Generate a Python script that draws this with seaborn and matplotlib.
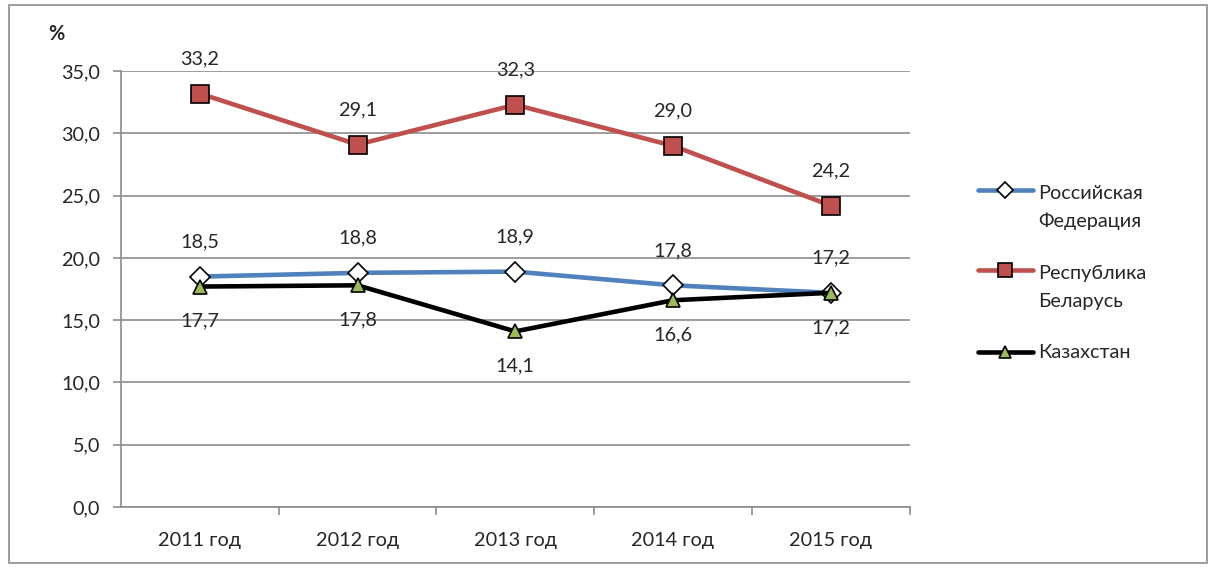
import pandas as pd
import matplotlib
matplotlib.use("Agg")
import matplotlib.pyplot as plt
import seaborn as sns
from matplotlib.legend_handler import HandlerLine2D

# data
years = ["2011 год", "2012 год", "2013 год", "2014 год", "2015 год"]
russia = [18.5, 18.8, 18.9, 17.8, 17.2]
belarus = [33.2, 29.1, 32.3, 29.0, 24.2]
kazakhstan = [17.7, 17.8, 14.1, 16.6, 17.2]
names = ["Российская\nФедерация", "Республика\nБеларусь", "Казахстан"]
y_ticks = [0, 5, 10, 15, 20, 25, 30, 35]

FS = 14.3


class RaisedLine(HandlerLine2D):
    # puts the legend line next to the first line of a two-line label
    def __init__(self, shift, **kw):
        super().__init__(**kw)
        self.shift = shift

    def create_artists(self, legend, orig_handle, xdescent, ydescent, width, height, fontsize, trans):
        return super().create_artists(legend, orig_handle, xdescent, ydescent - 2 * self.shift,
                                      width, height, fontsize, trans)


sns.set_style("white")
plt.rcParams["font.family"] = ["Lato", "DejaVu Sans"]

fig = plt.figure(figsize=(12.16, 5.69), dpi=100)
ax = fig.add_axes([0.0995, 0.109, 0.6485, 0.766])

# outer frame of the chart
fig.patches.append(plt.Rectangle((0.007, 0.01), 0.986, 0.982, transform=fig.transFigure,
                                 fill=False, edgecolor="#8c8c8c", linewidth=1.2))

styles = [
    (russia, "#4F81BD", "D", "white", 10, "above"),
    (belarus, "#C0504D", "s", "#C0504D", 12.5, "above"),
    (kazakhstan, "black", "^", "#9BBB59", 10.5, "below"),
]

for (vals, col, mk, face, ms, pos), name in zip(styles, names):
    df = pd.DataFrame({"year": years, "value": vals})
    sns.lineplot(data=df, x="year", y="value", ax=ax, color=col, linewidth=3.3,
                 marker=mk, markersize=ms, markerfacecolor=face,
                 markeredgecolor="black", markeredgewidth=1.2, label=name, zorder=3)
    for i, v in enumerate(vals):
        off = 25 if pos == "above" else -25
        ax.annotate(f"{v:.1f}".replace(".", ","), (i, v), xytext=(0, off),
                    textcoords="offset points", ha="center", va="center", fontsize=FS)

ax.set_xlim(-0.5, 4.5)
ax.set_ylim(0, 35)
ax.set_yticks(y_ticks)
ax.set_yticklabels([f"{t:.1f}".replace(".", ",") for t in y_ticks], fontsize=FS)
ax.set_xticks(range(len(years)))
ax.set_xticklabels(years, fontsize=FS)
ax.set_xlabel("")
ax.set_ylabel("")

ax.grid(axis="y", color="#8c8c8c", linewidth=1.2)
ax.set_axisbelow(True)
for s in ["top", "right"]:
    ax.spines[s].set_visible(False)
for s in ["left", "bottom"]:
    ax.spines[s].set_color("#8c8c8c")
    ax.spines[s].set_linewidth(1.2)

ax.tick_params(axis="y", direction="out", length=6, color="#8c8c8c", width=1.2, pad=9, left=True)
ax.tick_params(axis="x", which="major", length=0, pad=18)
ax.set_xticks([0.5, 1.5, 2.5, 3.5, 4.5], minor=True)
ax.tick_params(axis="x", which="minor", direction="out", length=6, color="#8c8c8c", width=1.2, bottom=True)

fig.text(0.040, 0.940, "%", fontsize=FS, fontweight="bold", ha="left", va="center")

handles, labels = ax.get_legend_handles_labels()
hmap = {h: RaisedLine(12.5 if "\n" in lab else 0) for h, lab in zip(handles, labels)}
leg = ax.legend(handles, labels, handler_map=hmap, loc="upper left",
                bbox_to_anchor=(978 / 1216, 1 - 185 / 569), bbox_transform=fig.transFigure,
                frameon=False, fontsize=FS, handlelength=2.75, handletextpad=0.3,
                labelspacing=1.75, borderpad=0, borderaxespad=0, markerscale=0.8)
for t in leg.get_texts():
    t.set_linespacing(1.75)

fig.savefig("out.png", dpi=100)
